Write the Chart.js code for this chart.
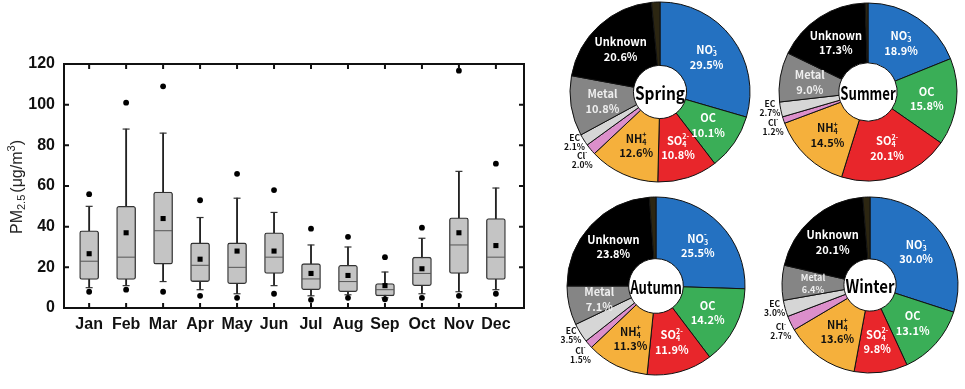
<!DOCTYPE html>
<html>
<head>
<meta charset="utf-8">
<script src="https://cdn.jsdelivr.net/npm/chart.js@4.4.1/dist/chart.umd.min.js"></script>
<style>
  html, body { margin: 0; padding: 0; background: #fff; }
  body { width: 965px; height: 389px; position: relative; overflow: hidden; font-family: "Liberation Sans", Arial, sans-serif; }
  .holder { position: absolute; }
  #yTitle { position: absolute; left: 17px; top: 187px; transform: translate(-50%, -50%) rotate(-90deg);
            font-size: 16px; color: #222; white-space: nowrap; }
  #yTitle sub { font-size: 11px; vertical-align: -3px; line-height: 0; margin-right: 2px; }
  #yTitle sup { font-size: 11px; vertical-align: 7px; line-height: 0; }
</style>
</head>
<body>
<div class="holder" style="left:0;top:0;width:540px;height:389px"><canvas id="pmChart"></canvas></div>
<div id="yTitle">PM<sub>2.5</sub>(μg/m<sup>3</sup>)</div>
<div class="holder" style="left:545px;top:0;width:230px;height:184px"><canvas id="springChart"></canvas></div>
<div class="holder" style="left:753px;top:0;width:230px;height:184px"><canvas id="summerChart"></canvas></div>
<div class="holder" style="left:541px;top:191px;width:230px;height:190px"><canvas id="autumnChart"></canvas></div>
<div class="holder" style="left:755px;top:190px;width:230px;height:190px"><canvas id="winterChart"></canvas></div>

<script>
// Monthly PM2.5 box plot data (µg/m3)
const months = ['Jan', 'Feb', 'Mar', 'Apr', 'May', 'Jun', 'Jul', 'Aug', 'Sep', 'Oct', 'Nov', 'Dec'];
const whiskerLow  = [10, 11, 13, 9, 7, 11, 6, 6.5, 5, 7, 8, 9];
const q1          = [14, 14, 21.6, 13, 12, 17, 9, 8, 6, 11, 17, 14];
const medians     = [23, 25, 38, 21, 20, 25, 14.3, 13, 9, 17, 31, 25];
const q3          = [38, 50, 57, 32, 32, 37, 21.8, 21, 12, 25, 44.4, 44];
const whiskerHigh = [50, 88, 86, 44.5, 54, 47, 31, 30, 17.7, 34.3, 67.2, 59];
const means       = [26.7, 37, 44, 24, 28, 28, 17, 16, 11, 19.3, 37, 30.7];
const outHigh     = [56, 101, 109, 53, 66, 58, 39, 35, 25, 39.5, 116.7, 71];
const outLow      = [8, 9, 8, 6, 5, 7, 4, 5, 4.3, 5, 6, 7];
const yTicks      = [0, 20, 40, 60, 80, 100, 120];

// Seasonal PM2.5 composition (%)
const components = ['NO3-', 'OC', 'SO42-', 'NH4+', 'Cl-', 'EC', 'Metal', 'Unknown', 'Other'];
const spring = [29.5, 10.1, 10.8, 12.6, 2.0, 2.1, 10.8, 20.6, 1.5];
const summer = [18.9, 15.8, 20.1, 14.5, 1.2, 2.7, 9.0, 17.3, 0.5];
const autumn = [25.5, 14.2, 11.9, 11.3, 1.5, 3.5, 7.1, 23.8, 1.2];
const winter = [30.0, 13.1, 9.8, 13.6, 2.7, 3.0, 6.4, 20.1, 1.3];

const AXIS_FONT = '"Liberation Sans", Arial, sans-serif';
const PIE_FONT = '"Noto Sans CJK KR", "Noto Sans", sans-serif';

// frame + inward ticks for the box plot
const framePlugin = {
    id: 'frame',
    afterDatasetsDraw(chart) {
        const { ctx, chartArea: a, scales: { x, y } } = chart;
        ctx.save();
        ctx.strokeStyle = '#111';
        ctx.lineWidth = 2;
        ctx.strokeRect(a.left, a.top, a.right - a.left, a.bottom - a.top);
        ctx.beginPath();
        y.ticks.forEach(t => {
            const py = y.getPixelForValue(t.value);
            ctx.moveTo(a.left, py); ctx.lineTo(a.left + 5, py);
            ctx.moveTo(a.right, py); ctx.lineTo(a.right - 5, py);
        });
        x.ticks.forEach(t => {
            const px = x.getPixelForValue(t.value);
            ctx.moveTo(px, a.top); ctx.lineTo(px, a.top + 5);
            ctx.moveTo(px, a.bottom); ctx.lineTo(px, a.bottom - 5);
        });
        ctx.stroke();
        ctx.restore();
    }
};

new Chart(document.getElementById('pmChart'), {
    type: 'bar',
    data: {
        datasets: [
            { label: 'whisker', data: months.map((m, i) => ({ x: i + 1, y: [whiskerLow[i], whiskerHigh[i]] })),
              backgroundColor: '#222', barThickness: 1.2, grouped: false, order: 6 },
            { label: 'box', data: months.map((m, i) => ({ x: i + 1, y: [q1[i], q3[i]] })),
              backgroundColor: '#c4c4c4', borderColor: '#333', borderWidth: 1.3, borderRadius: 2.5,
              borderSkipped: false, barThickness: 19, grouped: false, order: 5 },
            { type: 'scatter', label: 'median', data: months.map((m, i) => ({ x: i + 1, y: medians[i] })),
              pointStyle: 'line', radius: 9, borderColor: '#555', borderWidth: 1, order: 4 },
            { type: 'scatter', label: 'caps',
              data: months.map((m, i) => ({ x: i + 1, y: whiskerHigh[i] }))
                    .concat(months.map((m, i) => ({ x: i + 1, y: whiskerLow[i] }))),
              pointStyle: 'line', radius: 3.5, borderColor: '#333', borderWidth: 1.2, order: 4 },
            { type: 'scatter', label: 'mean', data: months.map((m, i) => ({ x: i + 1, y: means[i] })),
              pointStyle: 'rect', radius: 3.6, backgroundColor: '#000', borderWidth: 0, order: 1 },
            { type: 'scatter', label: 'outliers',
              data: months.map((m, i) => ({ x: i + 1, y: outHigh[i] }))
                    .concat(months.map((m, i) => ({ x: i + 1, y: outLow[i] }))),
              pointStyle: 'circle', radius: 2.9, backgroundColor: '#000', borderWidth: 0, order: 1 }
        ]
    },
    options: {
        responsive: true,
        maintainAspectRatio: false,
        animation: false,
        events: [],
        layout: { padding: { top: 64, right: 16, left: 0, bottom: 0 } },
        plugins: { legend: { display: false }, tooltip: { enabled: false } },
        scales: {
            x: {
                type: 'linear', min: 0.32, max: 12.76, offset: false, bounds: 'data',
                grid: { display: false, drawTicks: false }, border: { display: false },
                afterBuildTicks: s => { s.ticks = months.map((m, i) => ({ value: i + 1 })); },
                afterFit: s => { s.height = 81; },
                ticks: { autoSkip: false, maxRotation: 0, padding: 7, color: '#111',
                         font: { family: AXIS_FONT, size: 16, weight: 'bold' },
                         callback: v => months[v - 1] }
            },
            y: {
                min: 0, max: 120,
                grid: { display: false, drawTicks: false }, border: { display: false },
                afterBuildTicks: s => { s.ticks = yTicks.map(v => ({ value: v })); },
                afterFit: s => { s.width = 64; },
                ticks: { padding: 9, color: '#111', font: { family: AXIS_FONT, size: 16, weight: 'bold' } }
            }
        }
    },
    plugins: [framePlugin]
});

// ---- doughnuts ----
const sliceColors = ['#2471c1', '#3aae57', '#e8262b', '#f5b03c', '#dc8fcb', '#d6d6d6', '#858585', '#000000', '#2c2612'];
const richNames = {
    'NO3-': [['NO', ''], ['3', 'sub'], ['-', 'sup']],
    'SO42-': [['SO', ''], ['4', 'sub'], ['2-', 'sup']],
    'NH4+': [['NH', ''], ['4', 'sub'], ['+', 'sup']],
    'Cl-': [['Cl', ''], ['-', 'sup']]
};

function drawRich(ctx, parts, cx, cy, size, color) {
    const small = size * 0.65;
    const segs = [];
    let w = 0, i = 0;
    while (i < parts.length) {
        if (parts[i][1] === '') {
            ctx.font = `bold ${size}px ${PIE_FONT}`;
            segs.push({ t: parts[i][0], x: w, dy: 0, font: ctx.font });
            w += ctx.measureText(parts[i][0]).width;
            i++;
        } else {
            let gw = 0;
            while (i < parts.length && parts[i][1] !== '') {
                ctx.font = `bold ${small}px ${PIE_FONT}`;
                segs.push({ t: parts[i][0], x: w, dy: parts[i][1] === 'sub' ? size * 0.32 : -size * 0.38, font: ctx.font });
                gw = Math.max(gw, ctx.measureText(parts[i][0]).width);
                i++;
            }
            w += gw;
        }
    }
    ctx.fillStyle = color;
    ctx.textAlign = 'left';
    ctx.textBaseline = 'middle';
    segs.forEach(s => { ctx.font = s.font; ctx.fillText(s.t, cx - w / 2 + s.x, cy + s.dy); });
}

const pieLabels = {
    id: 'pieLabels',
    afterDatasetsDraw(chart, args, opts) {
        const ctx = chart.ctx;
        const meta = chart.getDatasetMeta(0);
        const vals = chart.data.datasets[0].data;
        ctx.save();
        meta.data.forEach((arc, i) => {
            const name = components[i];
            if (name === 'Other') return;
            const p = arc.getProps(['x', 'y', 'startAngle', 'endAngle', 'innerRadius', 'outerRadius'], true);
            const mid = (p.startAngle + p.endAngle) / 2;
            const pct = vals[i].toFixed(1) + '%';
            const parts = richNames[name] || [[name, '']];
            if (name === 'EC' || name === 'Cl-') {
                const r = p.outerRadius + 11;
                const lx = p.x + Math.cos(mid) * r;
                const ly = p.y + Math.sin(mid) * r;
                const top = name === 'EC' ? ly - 12 : ly - 5;
                drawRich(ctx, parts, lx, top + 4, 8.5, '#111');
                ctx.font = `bold 8.5px ${PIE_FONT}`;
                ctx.textAlign = 'center';
                ctx.fillText(pct, lx, top + 13);
            } else {
                const r = (p.innerRadius + p.outerRadius) / 2;
                const lx = p.x + Math.cos(mid) * r;
                const ly = p.y + Math.sin(mid) * r;
                const size = vals[i] < 7 ? 9 : 11;
                const color = name === 'NH4+' ? '#111' : (name === 'Metal' ? '#eee' : '#fff');
                drawRich(ctx, parts, lx, ly - size * 0.62, size, color);
                ctx.font = `bold ${size}px ${PIE_FONT}`;
                ctx.textAlign = 'center';
                ctx.fillStyle = color;
                ctx.fillText(pct, lx, ly + size * 0.68);
            }
        });
        // season name squeezed into the hole
        const c = meta.data[0];
        ctx.font = `bold 18px ${PIE_FONT}`;
        const tw = ctx.measureText(opts.title).width;
        const sx = Math.min(1, (c.innerRadius * 2 - 3) / tw);
        ctx.translate(c.x, c.y + 1);
        ctx.scale(sx, 1);
        ctx.fillStyle = '#000';
        ctx.textAlign = 'center';
        ctx.textBaseline = 'middle';
        ctx.fillText(opts.title, 0, 0);
        ctx.restore();
    }
};

function makeDoughnut(id, values, title, radius, cutout) {
    return new Chart(document.getElementById(id), {
        type: 'doughnut',
        data: {
            labels: components,
            datasets: [{ data: values, backgroundColor: sliceColors, borderColor: '#111', borderWidth: 1 }]
        },
        options: {
            responsive: true,
            maintainAspectRatio: false,
            animation: false,
            events: [],
            radius: radius,
            cutout: cutout,
            layout: { padding: 0 },
            plugins: { legend: { display: false }, tooltip: { enabled: false }, pieLabels: { title: title } }
        },
        plugins: [pieLabels]
    });
}

makeDoughnut('springChart', spring, 'Spring', 90, 27);
makeDoughnut('summerChart', summer, 'Summer', 89, 30);
makeDoughnut('autumnChart', autumn, 'Autumn', 89, 29);
makeDoughnut('winterChart', winter, 'Winter', 88, 28);
</script>
</body>
</html>
